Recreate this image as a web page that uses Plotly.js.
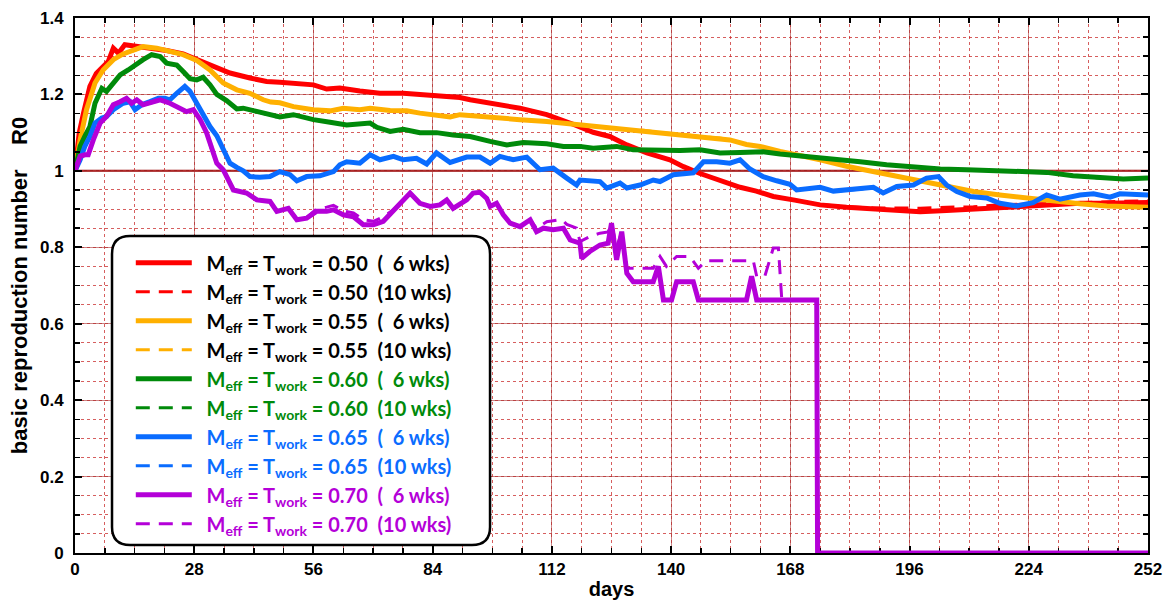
<!DOCTYPE html>
<html>
<head>
<meta charset="utf-8">
<script src="https://cdn.plot.ly/plotly-3.0.1.min.js"></script>
<style>html,body{margin:0;padding:0;background:#fff;}#chart{width:1168px;height:601px;}</style>
</head>
<body>
<div id="chart"></div>
<script>
// ---------- data ----------
const red6Days = [0,1,2,3.5,5,6,7.8,9,10.2,11.7,13,14.5,17.6,21.5,25.4,28.6,31.7,36.4,41.1,45,48.1,52,56,59.1,62.2,66.9,71.6,77.1,83.4,90.4,92.8,98.2,104.5,110.8,114,117,121.7,125.6,129.6,134.3,139.7,142.9,146.8,151.5,156.2,160,164,168.7,175,181.2,187.5,193,198.5,204.7,211,217.2,223.5,229.8,236,242.3,247,252];
const red6Vals = [1.000,1.10,1.151,1.221,1.255,1.266,1.286,1.321,1.308,1.330,1.328,1.327,1.321,1.315,1.306,1.292,1.277,1.256,1.243,1.234,1.232,1.229,1.225,1.214,1.217,1.209,1.203,1.203,1.199,1.192,1.186,1.176,1.164,1.147,1.135,1.122,1.101,1.090,1.068,1.047,1.029,1.011,0.993,0.974,0.957,0.947,0.933,0.924,0.911,0.905,0.900,0.895,0.893,0.896,0.900,0.906,0.910,0.913,0.915,0.915,0.917,0.917];

const red10Days = [0,1,2,3.5,5,6,7.8,9,10.2,11.7,13,14.5,17.6,21.5,25.4,28.6,31.7,36.4,41.1,45,48.1,52,56,59.1,62.2,66.9,71.6,77.1,83.4,90.4,92.8,98.2,104.5,110.8,114,117,121.7,125.6,129.6,134.3,139.7,142.9,146.8,151.5,156.2,160,164,168.7,175,181.2,187.5,193,198.5,204.7,211,217.2,223.5,229.8,236,242.3,247,252];
const red10Vals = [1.000,1.10,1.151,1.221,1.255,1.266,1.286,1.321,1.308,1.330,1.328,1.327,1.321,1.315,1.306,1.292,1.277,1.256,1.243,1.234,1.232,1.229,1.225,1.214,1.217,1.209,1.203,1.203,1.199,1.192,1.186,1.176,1.164,1.147,1.135,1.122,1.101,1.090,1.068,1.047,1.029,1.011,0.993,0.974,0.957,0.947,0.933,0.924,0.912,0.906,0.903,0.903,0.902,0.905,0.906,0.911,0.913,0.915,0.917,0.920,0.921,0.922];

const orange6Days = [0,1.2,2.7,4.7,6.6,9,11.3,14.5,16,19.2,22.3,25.4,28.6,31.7,34.8,38,41.1,44.2,46,48.1,51.3,56,59.9,63,66.9,69.3,74,77.9,81,84.9,88.1,90.4,95.1,99.8,104.5,110.8,116.3,121.7,128,133.5,137.4,142.1,146.8,151.5,153.8,157.7,160.9,165.6,169.5,175,181.2,187.5,193,198.5,204.7,211,217.2,223.5,229.8,236,242.3,247,252];
const orange6Vals = [1.000,1.081,1.160,1.230,1.264,1.291,1.306,1.317,1.325,1.321,1.312,1.304,1.289,1.264,1.230,1.212,1.203,1.186,1.180,1.178,1.168,1.160,1.157,1.164,1.160,1.164,1.158,1.157,1.151,1.147,1.141,1.147,1.142,1.138,1.134,1.129,1.123,1.116,1.109,1.106,1.100,1.096,1.090,1.086,1.081,1.069,1.064,1.051,1.043,1.029,1.012,0.998,0.987,0.972,0.959,0.946,0.937,0.929,0.920,0.914,0.908,0.905,0.905];
// the 10-week run lies exactly under the 6-week run in the picture
const orange10Days = orange6Days;
const orange10Vals = orange6Vals;

const green6Days = [0,1.2,2.3,3.5,4.7,6.3,7.4,9,10.6,12.5,14.1,16,18,20,21.5,23.9,25.4,27,28.6,30.1,31.7,33.3,35.6,38,39.5,42.7,46.6,48.1,51.3,56,59.9,63.8,69.3,70.9,74,77.1,81,84.9,88.8,92.8,97.5,101.4,105.3,110.8,114.7,118.6,121.7,127.2,131.1,137.4,142.1,146.8,151.5,156.2,161.6,165.6,171.8,178.1,184.4,190.6,196.9,203.2,209.4,215.7,221.9,228.2,234.4,240.7,246.2,252];
const green6Vals = [1.000,1.064,1.090,1.116,1.177,1.216,1.208,1.230,1.251,1.264,1.277,1.291,1.304,1.299,1.282,1.277,1.260,1.241,1.238,1.245,1.225,1.200,1.184,1.162,1.164,1.155,1.142,1.141,1.147,1.134,1.127,1.120,1.125,1.114,1.103,1.109,1.100,1.100,1.094,1.090,1.077,1.068,1.074,1.071,1.064,1.064,1.059,1.064,1.055,1.053,1.053,1.055,1.047,1.048,1.050,1.044,1.038,1.031,1.024,1.016,1.010,1.005,1.003,1.001,0.998,0.996,0.987,0.981,0.979,0.981];
const green10Days = green6Days;
const green10Vals = green6Vals;

const blue6Days = [0,1.2,2.3,3.5,4.7,6.3,7.4,9,11.3,12.9,14.1,15.7,17.6,19.6,21.1,22.3,23.9,25.8,27,28.6,30.1,31.7,33.3,34.8,36.4,38,39.5,41.1,43.4,45.8,48.1,50.5,52.1,54.4,57.5,60.7,62.2,63.8,66.9,69.3,71.6,74.8,77.1,80.2,82.6,84.9,88.1,92,95.1,97.5,99.8,102.9,106.1,109.2,112.3,115.5,117.8,118.6,123.3,124.9,128,129.6,132.7,135.8,137.4,140.5,145.2,147.6,150.7,153.8,156.2,158.5,161.6,164.8,167.9,169.5,173.4,175,178.1,181.2,184.4,187.5,189.8,193,196.9,200,202.8,204.7,207.1,210.2,214.1,217.2,221.1,225,228.2,231.3,236,239.2,243.1,245.4,252];
const blue6Vals = [1.000,1.029,1.064,1.090,1.125,1.138,1.142,1.160,1.177,1.181,1.160,1.173,1.181,1.190,1.190,1.186,1.203,1.221,1.208,1.177,1.147,1.116,1.092,1.055,1.020,1.009,1.000,0.985,0.983,0.985,0.998,0.990,0.974,0.985,0.987,0.998,1.016,1.024,1.020,1.042,1.029,1.038,1.029,1.033,1.018,1.047,1.022,1.036,1.036,1.020,1.038,1.029,1.036,1.003,1.007,0.981,0.963,0.976,0.972,0.955,0.968,0.955,0.963,0.976,0.972,0.990,0.995,1.024,1.024,1.020,1.029,1.005,0.985,0.974,0.965,0.950,0.955,0.957,0.947,0.950,0.952,0.957,0.942,0.959,0.963,0.981,0.985,0.963,0.946,0.933,0.929,0.915,0.908,0.917,0.937,0.926,0.937,0.940,0.931,0.940,0.937];
const blue10Days = blue6Days;
const blue10Vals = blue6Vals;

const purple6Days = [0,1.2,2.3,3.1,4.3,5.9,7.4,9,10.6,12.1,13.3,14.5,16,17.6,20,22.3,23.9,26.2,27.8,29.4,30.9,32.1,33.3,34.8,36.4,37.2,40.3,42.7,45.8,47.4,50.1,52.1,54.4,56.7,59.1,60.7,63,65.4,67.7,70.1,72.4,74.8,77.1,78.7,81,83.4,85.7,87.3,88.8,92,93.5,95.1,96.7,97.5,99,100.6,102.2,104.5,106.9,108.4,110,112.3,114.7,116.3,118.6,119,120.9,123.3,125.2,126,127.2,128.4,129.6,131.1,135.8,137,138.2,140.1,141.3,145.2,146.4,157.7,158.9,160.1,174.2,174.4,252];
const purple6Vals = [1.000,1.038,1.042,1.042,1.081,1.125,1.142,1.173,1.181,1.190,1.177,1.186,1.173,1.177,1.186,1.177,1.168,1.155,1.160,1.134,1.100,1.055,1.020,1.003,0.968,0.950,0.942,0.924,0.920,0.894,0.902,0.872,0.876,0.894,0.894,0.898,0.885,0.880,0.859,0.859,0.868,0.898,0.924,0.942,0.915,0.907,0.911,0.924,0.902,0.924,0.942,0.944,0.928,0.907,0.915,0.885,0.863,0.854,0.872,0.841,0.850,0.846,0.850,0.819,0.811,0.771,0.789,0.806,0.811,0.863,0.767,0.841,0.732,0.710,0.710,0.750,0.662,0.662,0.710,0.710,0.662,0.662,0.724,0.662,0.662,0,0];

const purple10Days = [0,1.2,2.3,3.1,4.3,5.9,7.4,9,10.6,12.1,13.3,14.5,16,17.6,20,22.3,23.9,26.2,27.8,29.4,30.9,32.1,33.3,34.8,36.4,37.2,40.3,42.7,45.8,47.4,50.1,52.1,54.4,56.7,59.1,60.7,63,65.4,67.7,70.1,72.4,74.8,77.1,78.7,81,83.4,85.7,87.3,88.8,92,93.5,95.1,96.7,97.5,99,100.6,102.2,104.5,106.9,108.4,110.8,114.3,115.5,117.8,118.6,120.9,123.3,125.2,126,127.2,128.4,129.6,135.8,137.4,138.9,141.3,144.4,146.4,148.3,159.3,160.1,162,164,165.2,166,174.2,174.4,252];
const purple10Vals = [1.000,1.038,1.042,1.042,1.081,1.125,1.142,1.173,1.181,1.190,1.177,1.186,1.173,1.177,1.186,1.177,1.168,1.155,1.160,1.134,1.100,1.055,1.020,1.003,0.968,0.950,0.942,0.926,0.920,0.896,0.902,0.874,0.878,0.900,0.905,0.910,0.895,0.890,0.872,0.868,0.880,0.898,0.924,0.942,0.915,0.907,0.911,0.924,0.902,0.924,0.942,0.944,0.928,0.907,0.915,0.885,0.863,0.854,0.872,0.850,0.867,0.873,0.860,0.850,0.815,0.828,0.837,0.840,0.863,0.800,0.841,0.745,0.745,0.776,0.750,0.776,0.776,0.745,0.765,0.765,0.724,0.724,0.798,0.798,0.662,0.662,0,0];

const xTickVals = [0,28,56,84,112,140,168,196,224,252];
const yTickVals = [0,0.2,0.4,0.6,0.8,1,1.2,1.4];

const series = [
  {name:'0.50', weeks:'  6', x:red6Days, y:red6Vals, color:'#ff0000', text:'#000000', dash:'solid'},
  {name:'0.50', weeks:'10', x:red10Days, y:red10Vals, color:'#ff0000', text:'#000000', dash:'dashed'},
  {name:'0.55', weeks:'  6', x:orange6Days, y:orange6Vals, color:'#ffb000', text:'#000000', dash:'solid'},
  {name:'0.55', weeks:'10', x:orange10Days, y:orange10Vals, color:'#ffb000', text:'#000000', dash:'dashed'},
  {name:'0.60', weeks:'  6', x:green6Days, y:green6Vals, color:'#008a0a', text:'#008a0a', dash:'solid'},
  {name:'0.60', weeks:'10', x:green10Days, y:green10Vals, color:'#008a0a', text:'#008a0a', dash:'dashed'},
  {name:'0.65', weeks:'  6', x:blue6Days, y:blue6Vals, color:'#0a6cff', text:'#0a6cff', dash:'solid'},
  {name:'0.65', weeks:'10', x:blue10Days, y:blue10Vals, color:'#0a6cff', text:'#0a6cff', dash:'dashed'},
  {name:'0.70', weeks:'  6', x:purple6Days, y:purple6Vals, color:'#b400d8', text:'#b400d8', dash:'solid'},
  {name:'0.70', weeks:'10', x:purple10Days, y:purple10Vals, color:'#b400d8', text:'#b400d8', dash:'dashed'}
];

// ---------- traces ----------
const traces = series.map(s => ({
  type:'scatter', mode:'lines', x:s.x, y:s.y, cliponaxis:false,
  name:'<span style="color:'+s.text+'">  M<sub>eff</sub> = T<sub>work</sub> = '+s.name+'  ('+s.weeks+' wks)</span>',
  line:{color:s.color, width: s.dash==='solid'?5:3, dash: s.dash==='solid'?'solid':'14px,9px', shape:'linear'},
  hoverinfo:'skip'
}));

// rounded legend box in paper coords
const bx0=0.0345, bx1=0.3868, by0=0.015, by1=0.5925, rx=0.0168, ry=0.0336;
const boxPath = `M ${bx0+rx},${by1} L ${bx1-rx},${by1} Q ${bx1},${by1} ${bx1},${by1-ry} L ${bx1},${by0+ry} Q ${bx1},${by0} ${bx1-rx},${by0} L ${bx0+rx},${by0} Q ${bx0},${by0} ${bx0},${by0+ry} L ${bx0},${by1-ry} Q ${bx0},${by1} ${bx0+rx},${by1} Z`;

const gridMajor = 'rgba(170,50,50,0.6)';
const gridMinor = 'rgba(200,40,40,0.75)';

const layout = {
  width:1168, height:601,
  margin:{l:75, r:20, t:18, b:48},
  paper_bgcolor:'#ffffff', plot_bgcolor:'#ffffff',
  font:{family:'Liberation Sans, Arial, sans-serif', color:'#000'},
  showlegend:true,
  legend:{
    x:0.052, xanchor:'left', y:0.579, yanchor:'top',
    bgcolor:'rgba(0,0,0,0)', borderwidth:0,
    font:{family:'Lato, Open Sans, sans-serif', size:20, weight:'bold', color:'#000'},
    itemwidth:56, tracegroupgap:0
  },
  xaxis:{
    range:[0,252], tickvals:xTickVals, ticktext:xTickVals.map(String),
    showline:true, linecolor:'#000', linewidth:2, mirror:'ticks',
    ticks:'inside', ticklen:7, tickwidth:2, tickcolor:'#000',
    tickfont:{size:17, weight:'bold', family:'Liberation Sans, Arial, sans-serif'},
    showgrid:true, gridcolor:gridMajor, gridwidth:1.2,
    zeroline:false, layer:'below traces',
    minor:{dtick:7, showgrid:true, gridcolor:gridMinor, griddash:'dot', gridwidth:1, ticks:'inside', ticklen:5, tickcolor:'#000', tickwidth:1.5},
    title:{text:'days', font:{size:20, weight:'bold'}, standoff:4}
  },
  yaxis:{
    range:[0,1.4], tickvals:yTickVals, ticktext:yTickVals.map(v=>String(v)),
    showline:true, linecolor:'#000', linewidth:2, mirror:'ticks',
    ticks:'inside', ticklen:7, tickwidth:2, tickcolor:'#000',
    tickfont:{size:17, weight:'bold', family:'Liberation Sans, Arial, sans-serif'},
    ticklabelstandoff:6,
    showgrid:true, gridcolor:gridMajor, gridwidth:1.2,
    zeroline:false,
    minor:{dtick:0.05, showgrid:true, gridcolor:gridMinor, griddash:'dot', gridwidth:1, ticks:'inside', ticklen:5, tickcolor:'#000', tickwidth:1.5},
    title:{text:'basic reproduction number    R0', font:{size:22, weight:'bold'}, standoff:6}
  },
  shapes:[
    {type:'line', xref:'x', yref:'y', x0:0, x1:252, y0:1, y1:1, line:{color:'#990000', width:2}, layer:'below'},
    {type:'path', xref:'paper', yref:'paper', path:boxPath, fillcolor:'#ffffff', line:{color:'#000', width:2.5}, layer:'above'}
  ]
};

Plotly.newPlot('chart', traces, layout, {displayModeBar:false, staticPlot:true});
</script>
</body>
</html>
